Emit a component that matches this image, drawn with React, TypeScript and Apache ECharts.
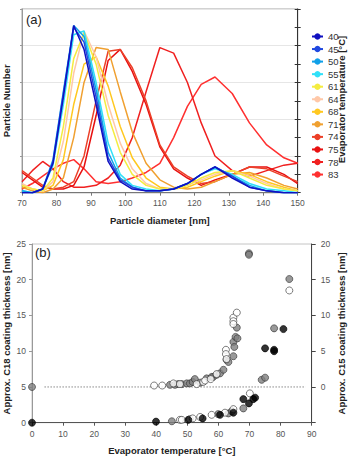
import React, { useEffect, useRef } from "react";
import * as echarts from "echarts";

// ---------- Panel (a): particle size distributions ----------
const diameters = [70, 73, 76, 79, 82, 85, 88, 91.5, 95, 98.5, 102, 106, 110, 114, 118, 122, 126, 131, 136, 141, 146, 150];
const temperatures = [40, 45, 50, 55, 61, 64, 68, 71, 74, 75, 78, 83];
const curveColors = ["#1010c0", "#2048e0", "#10a0e8", "#30e0f8", "#f4ec40", "#ffc8a8", "#ffc820", "#f0a030", "#ec4028", "#e81010", "#f02020", "#ff3030"];
const n40 = [0.0, 0.0, 0.02, 0.16, 0.52, 0.91, 0.78, 0.48, 0.17, 0.06, 0.02, 0.01, 0.01, 0.02, 0.05, 0.1, 0.14, 0.08, 0.03, 0.01, 0.0, 0.0];
const n45 = [0.0, 0.0, 0.02, 0.17, 0.54, 0.9, 0.82, 0.52, 0.19, 0.07, 0.03, 0.01, 0.01, 0.02, 0.05, 0.1, 0.14, 0.09, 0.03, 0.01, 0.0, 0.0];
const n50 = [0.01, 0.0, 0.02, 0.18, 0.55, 0.91, 0.85, 0.56, 0.22, 0.08, 0.03, 0.01, 0.01, 0.02, 0.05, 0.1, 0.14, 0.09, 0.04, 0.01, 0.0, 0.0];
const n55 = [0.01, 0.0, 0.02, 0.15, 0.48, 0.86, 0.88, 0.6, 0.27, 0.1, 0.04, 0.02, 0.01, 0.02, 0.05, 0.1, 0.13, 0.1, 0.05, 0.02, 0.01, 0.0];
const n61 = [0.04, 0.02, 0.01, 0.08, 0.36, 0.73, 0.87, 0.7, 0.42, 0.22, 0.1, 0.04, 0.02, 0.02, 0.04, 0.08, 0.11, 0.12, 0.08, 0.04, 0.02, 0.01];
const n64 = [0.05, 0.02, 0.01, 0.06, 0.28, 0.65, 0.88, 0.74, 0.48, 0.27, 0.13, 0.05, 0.02, 0.02, 0.04, 0.07, 0.1, 0.12, 0.09, 0.05, 0.02, 0.01];
const n68 = [0.04, 0.02, 0.01, 0.04, 0.18, 0.48, 0.7, 0.74, 0.58, 0.36, 0.19, 0.08, 0.03, 0.02, 0.03, 0.06, 0.09, 0.12, 0.1, 0.06, 0.03, 0.01];
const n71 = [0.03, 0.01, 0.0, 0.02, 0.08, 0.3, 0.6, 0.79, 0.78, 0.55, 0.33, 0.16, 0.07, 0.03, 0.02, 0.03, 0.06, 0.1, 0.11, 0.08, 0.04, 0.02];
const n74 = [0.12, 0.08, 0.04, 0.02, 0.03, 0.06, 0.2, 0.5, 0.77, 0.78, 0.68, 0.5, 0.26, 0.14, 0.09, 0.05, 0.06, 0.1, 0.14, 0.13, 0.09, 0.06];
const n75 = [0.11, 0.07, 0.03, 0.02, 0.02, 0.04, 0.14, 0.42, 0.72, 0.78, 0.66, 0.48, 0.25, 0.13, 0.08, 0.04, 0.07, 0.1, 0.14, 0.14, 0.1, 0.05];
const n78 = [0.06, 0.12, 0.17, 0.13, 0.06, 0.03, 0.03, 0.04, 0.08, 0.15, 0.3, 0.55, 0.79, 0.76, 0.6, 0.38, 0.2, 0.12, 0.09, 0.12, 0.15, 0.16];
const n83 = [0.02, 0.05, 0.09, 0.13, 0.16, 0.18, 0.13, 0.06, 0.05, 0.06, 0.08, 0.11, 0.16, 0.3, 0.47, 0.59, 0.63, 0.54, 0.38, 0.26, 0.19, 0.16];
const curves = [n40, n45, n50, n55, n61, n64, n68, n71, n74, n75, n78, n83];

// ---------- Panel (b): coating thickness vs evaporator temperature ----------
// C15 (right axis, nm)
const c15Grey: [number, number][] = [
  [0, 0], [44.4, 0.3], [46, 0.3], [47, 0.4], [48.2, 0.4], [49.8, 0.5], [50.8, 0.5], [51.7, 0.7], [52.4, 1.1],
  [54.1, 0.6], [56.2, 1.2], [57.8, 1.4], [58.3, 1.4], [59.4, 1.7], [60.5, 1.9], [61.6, 2.4], [62.6, 3.8], [63.2, 3.5],
  [64.8, 4.3], [64.8, 6.3], [65.1, 5.6], [65.5, 7.0], [66.1, 6.8], [65.9, 8.3], [69.8, 18.7], [69.8, 18.5], [82.8, 15.1],
];
const c15White: [number, number][] = [
  [39.3, 0.2], [41.9, 0.2], [45.5, 0.5], [47.6, 0.4], [53, 0.4], [55.1, 0.7], [55.7, 0.9], [57.5, 1.1], [59.4, 1.8],
  [62.4, 5.2], [62.4, 4.6], [62.6, 3.9], [64.8, 9.7], [64.8, 9.2], [64.8, 8.8], [65.9, 10.4], [82.8, 13.5],
];
// C18 (left axis, nm)
const c18Grey: [number, number][] = [
  [45, 0.2], [59.9, 1.2], [63.2, 1.3], [64.3, 1.6], [68, 2.0], [73.9, 6.0], [75, 6.3], [77.9, 13.2],
];
const c18White: [number, number][] = [
  [47.6, 0.4], [48.2, 0.4], [50.8, 0.5], [51.7, 0.6], [54.1, 0.8], [57.8, 1.1], [62.1, 1.4], [64.8, 1.9], [70.1, 4.1],
];
const c18Black: [number, number][] = [
  [0, 0], [39.9, 0.15], [50.3, 0.4], [54.9, 0.6], [60.5, 1.1], [64.8, 1.4], [68, 3.3], [69.8, 2.7], [71.2, 3.3],
  [71.8, 3.5], [75, 10.4], [77.9, 10.2], [77.9, 10.0], [80.9, 13.1],
];
const zeroLineX = [4, 88];
const annotations: [number, number, string][] = [
  [53, 8.8, "C15"],
  [61, 3.6, "C18"],
];

const FONT = "Liberation Sans, Arial, sans-serif";

export default function App() {
  const ref = useRef<HTMLDivElement>(null);
  useEffect(() => {
    if (!ref.current) return;
    const chart = echarts.init(ref.current, undefined, { renderer: "svg" });

    const nameStyle = { fontWeight: "bold" as const, fontSize: 9.5, color: "#222", fontFamily: FONT };
    const labelStyle = { fontSize: 8.5, color: "#555", fontFamily: FONT };

    const lineSeries = temperatures.map((t, i) => ({
      type: "line",
      name: String(t),
      xAxisIndex: 0,
      yAxisIndex: 0,
      data: diameters.map((d, j) => [d, curves[i][j]]),
      symbol: "none",
      lineStyle: { width: 1.5, color: curveColors[i] },
      itemStyle: { color: curveColors[i] },
      z: 2 + (temperatures.length - i) * 0.01,
    }));

    const scatterBase = { type: "scatter", xAxisIndex: 1, symbolSize: 7, clip: false, z: 5 };

    chart.setOption({
      animation: false,
      textStyle: { fontFamily: FONT },
      grid: [
        { left: 22, top: 9, width: 275.7, height: 183.7, show: true, borderColor: "#c4c4c4", borderWidth: 1.5, outerBoundsMode: "none", containLabel: false },
        { left: 32, top: 244, width: 279.7, height: 178.7, show: true, borderColor: "#c4c4c4", borderWidth: 1, outerBoundsMode: "none", containLabel: false },
      ],
      legend: {
        data: temperatures.map(String),
        orient: "vertical",
        left: 306,
        top: 25.5,
        itemWidth: 11,
        itemHeight: 8,
        itemGap: 0.55,
        selectedMode: false,
        textStyle: { fontSize: 9.5, lineHeight: 12, color: "#333", fontFamily: FONT },
      },
      graphic: [
        { type: "text", left: 26, top: 13, style: { text: "(a)", fill: "#222", font: `13px ${FONT}` } },
        { type: "text", left: 35, top: 246, style: { text: "(b)", fill: "#222", font: `13px ${FONT}` } },
        {
          type: "text",
          x: 341.7,
          y: 99.5,
          rotation: Math.PI / 2,
          style: {
            text: "Evaporator temperature [°C]",
            fill: "#222",
            font: `bold 9.5px ${FONT}`,
            align: "center",
            verticalAlign: "middle",
          },
        },
      ],
      xAxis: [
        {
          gridIndex: 0, type: "value", min: 70, max: 150, interval: 10,
          name: "Particle diameter [nm]", nameLocation: "middle", nameGap: 23, nameTextStyle: nameStyle, nameMoveOverlap: false,
          axisLine: { lineStyle: { color: "#777" } },
          axisTick: { length: 3, lineStyle: { color: "#777" } },
          axisLabel: { ...labelStyle, margin: 6 },
          splitLine: { show: false },
        },
        {
          gridIndex: 1, type: "value", min: 0, max: 90, interval: 10,
          name: "Evaporator temperature [°C]", nameLocation: "middle", nameGap: 23, nameTextStyle: nameStyle, nameMoveOverlap: false,
          axisLine: { lineStyle: { color: "#555" } },
          axisTick: { length: 3, lineStyle: { color: "#555" } },
          axisLabel: { ...labelStyle, margin: 7 },
          splitLine: { show: false },
        },
      ],
      yAxis: [
        {
          gridIndex: 0, type: "value", min: 0, max: 1, interval: 0.2,
          name: "Particle Number", nameLocation: "middle", nameGap: 11, nameTextStyle: nameStyle, nameMoveOverlap: false,
          axisLine: { show: true, lineStyle: { color: "#999" } },
          axisTick: { show: true, length: 2, lineStyle: { color: "#999" } },
          axisLabel: { show: false },
          splitLine: { show: true, lineStyle: { color: "#e6e6e6" } },
        },
        {
          gridIndex: 0, type: "value", position: "right", min: 0, max: 1, interval: 0.1,
          axisLine: { show: true, lineStyle: { color: "#333" } },
          axisTick: { show: true, inside: true, length: 3, lineStyle: { color: "#333" } },
          axisLabel: { show: false },
          splitLine: { show: false },
        },
        {
          gridIndex: 0, type: "value", position: "right", min: 0, max: 1, interval: 0.1,
          axisLine: { show: false },
          axisTick: { show: true, inside: false, length: 3, lineStyle: { color: "#333" } },
          axisLabel: { show: false },
          splitLine: { show: false },
        },
        {
          gridIndex: 1, type: "value", min: 0, max: 25, interval: 5,
          name: "Approx. C18 coating thickness [nm]", nameLocation: "middle", nameGap: 21, nameTextStyle: nameStyle, nameMoveOverlap: false,
          axisLine: { show: true, lineStyle: { color: "#999" } },
          axisTick: { show: true, length: 3, lineStyle: { color: "#999" } },
          axisLabel: { ...labelStyle, margin: 6 },
          splitLine: { show: false },
        },
        {
          gridIndex: 1, type: "value", position: "right", min: -5, max: 20, interval: 5,
          name: "Approx. C15 coating thickness [nm]", nameLocation: "middle", nameGap: 24.5, nameTextStyle: nameStyle, nameMoveOverlap: false,
          axisLine: { show: true, lineStyle: { color: "#444" } },
          axisTick: { show: true, length: 4, lineStyle: { color: "#444" } },
          axisLabel: { ...labelStyle, margin: 9, formatter: (v: number) => (v < 0 ? "" : String(v)) },
          splitLine: { show: false },
        },
      ],
      series: [
        ...lineSeries,
        {
          type: "line", xAxisIndex: 1, yAxisIndex: 4, symbol: "none", silent: true, z: 1,
          data: zeroLineX.map((x) => [x, 0]),
          lineStyle: { color: "#888", width: 1, type: [1.5, 1.5] },
        },
        { ...scatterBase, name: "C15 grey", yAxisIndex: 4, data: c15Grey, itemStyle: { color: "#7f7f7f", borderColor: "#333", borderWidth: 0.8 } },
        { ...scatterBase, name: "C15 white", yAxisIndex: 4, data: c15White, itemStyle: { color: "#ffffff", borderColor: "#333", borderWidth: 0.8 } },
        { ...scatterBase, name: "C18 grey", yAxisIndex: 3, data: c18Grey, itemStyle: { color: "#7f7f7f", borderColor: "#333", borderWidth: 0.8 } },
        { ...scatterBase, name: "C18 white", yAxisIndex: 3, data: c18White, itemStyle: { color: "#ffffff", borderColor: "#333", borderWidth: 0.8 } },
        { ...scatterBase, name: "C18 black", yAxisIndex: 3, data: c18Black, itemStyle: { color: "#000000", borderColor: "#000", borderWidth: 0.8 } },
        {
          type: "scatter", xAxisIndex: 1, yAxisIndex: 3, symbolSize: 1, silent: true, z: 6,
          itemStyle: { opacity: 0 },
          data: annotations,
          label: {
            show: true, position: "inside",
            formatter: (p: any) => p.value[2],
            fontSize: 9, color: "#333", fontFamily: FONT,
            backgroundColor: "#fff", borderColor: "#888", borderWidth: 1, padding: [2, 2, 1, 2],
          },
        },
      ],
    });
    return () => chart.dispose();
  }, []);
  return <div ref={ref} style={{ position: "absolute", left: 0, top: 0, width: 352, height: 456 }} />;
}
